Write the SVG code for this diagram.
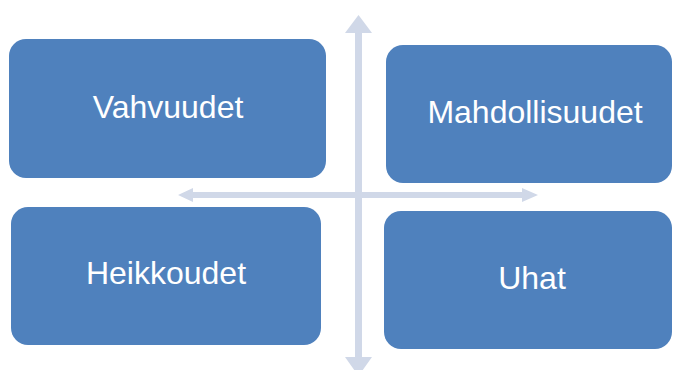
<svg xmlns="http://www.w3.org/2000/svg" width="673" height="370" viewBox="0 0 673 370">
  <style>
    .box { fill: #4F81BD; }
    .lbl { fill: #FFFFFF; font-family: "Liberation Sans", Arial, sans-serif; font-size: 32px; text-anchor: middle; }
    .arr { fill: #D0D8E8; }
  </style>
  <rect width="673" height="370" fill="#FFFFFF"/>
  <g id="connectors">
    <polygon class="arr" points="358.5,15 372,33 362,33 362,357 372,357 358.5,376 345,357 355,357 355,33 345,33"/>
    <polygon class="arr" points="178,195 193,188 193,192 522,192 522,188 538,195 522,202 522,198 193,198 193,202"/>
  </g>
  <g id="vahvuudet">
    <rect class="box" x="9" y="39" width="317" height="139" rx="17"/>
    <text class="lbl" x="168" y="118">Vahvuudet</text>
  </g>
  <g id="mahdollisuudet">
    <rect class="box" x="386" y="45" width="286" height="138" rx="17"/>
    <text class="lbl" x="535" y="123">Mahdollisuudet</text>
  </g>
  <g id="heikkoudet">
    <rect class="box" x="11" y="207" width="310" height="138" rx="17"/>
    <text class="lbl" x="166" y="284">Heikkoudet</text>
  </g>
  <g id="uhat">
    <rect class="box" x="384" y="211" width="288" height="138" rx="17"/>
    <text class="lbl" x="532" y="289">Uhat</text>
  </g>
</svg>
